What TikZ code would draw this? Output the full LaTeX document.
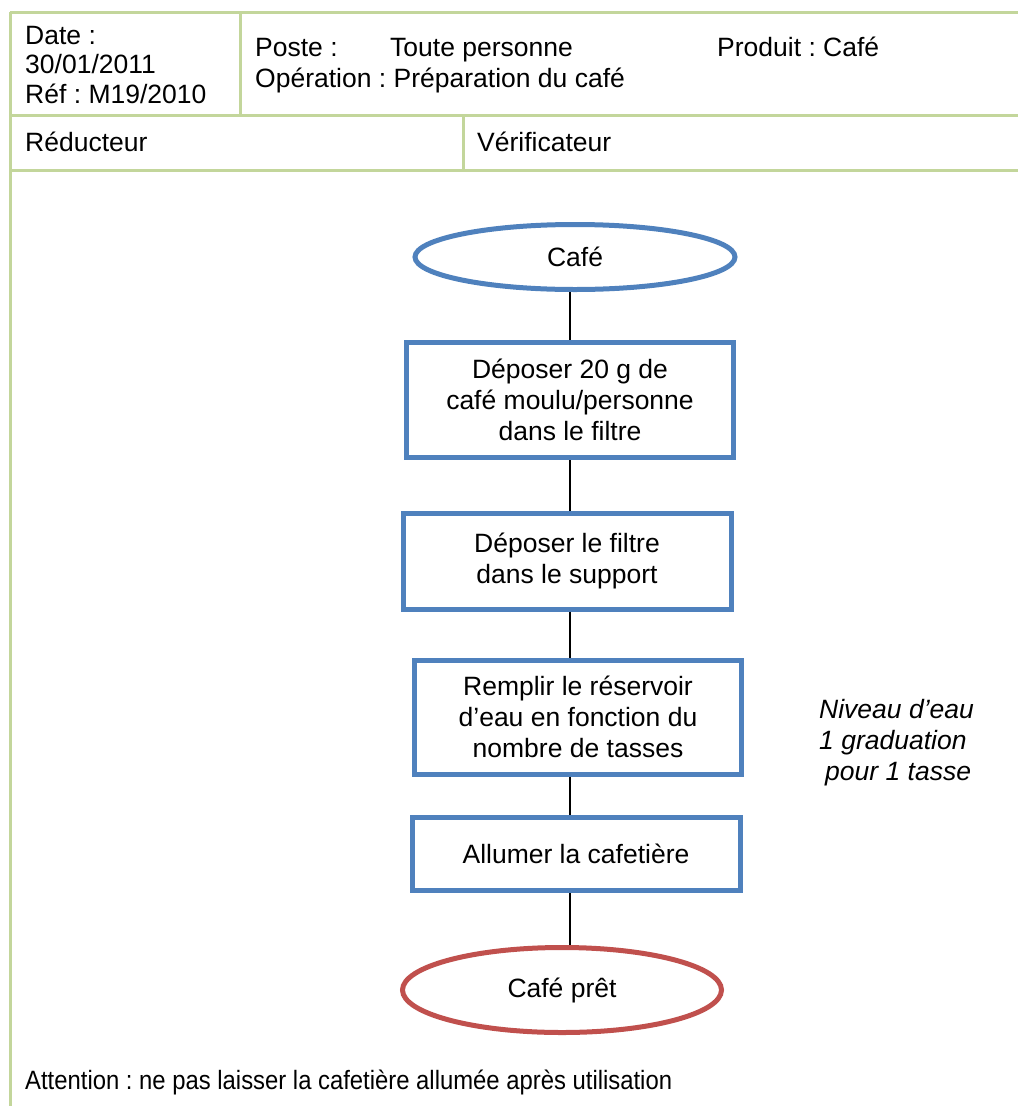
\documentclass[tikz,border=0pt]{standalone}
\usepackage{fontspec}
\setmainfont{Liberation Sans}
\newfontfamily\condfont[FakeStretch=0.9]{Liberation Sans}
\usetikzlibrary{shapes.geometric}
\definecolor{gborder}{RGB}{195,214,155}
\definecolor{bblue}{RGB}{79,129,189}
\definecolor{rred}{RGB}{192,80,77}
\tikzset{
  txt/.style={anchor=base west, inner sep=0pt, font=\fontsize{26.5}{30}\selectfont},
  stepbox/.style={draw=bblue, line width=5pt, rectangle, inner sep=0pt, align=center, font=\fontsize{26.5}{31}\selectfont},
  termblue/.style={draw=bblue, line width=5pt, ellipse, inner sep=0pt, font=\fontsize{26.5}{31}\selectfont},
  termred/.style={draw=rred, line width=5pt, ellipse, inner sep=0pt, font=\fontsize{26.5}{31}\selectfont},
  conn/.style={draw=black, line width=1.5pt},
  grid/.style={draw=gborder, line width=3pt}
}
\frenchspacing
\begin{document}
\begin{tikzpicture}[x=1pt,y=-1pt]
\useasboundingbox (0,0) rectangle (1018,1106);
% table borders
\draw[grid] (10,12) -- (1018,12);
\draw[grid] (10,115) -- (1018,115);
\draw[grid] (10,170) -- (1018,170);
\draw[grid] (10,12) -- (10,1106);
\draw[grid] (240,12) -- (240,115);
\draw[grid] (463,115) -- (463,170);
% header texts
\node[txt] (date) at (25,44) {Date :};
\node[txt] (datev) at (25,73) {30/01/2011};
\node[txt] (ref) at (25,103) {Réf : M19/2010};
\node[txt] (poste) at (255,56) {Poste :};
\node[txt] (toute) at (390,56) {Toute personne};
\node[txt] (produit) at (717,56) {Produit : Café};
\node[txt] (oper) at (255,87) {Opération : Préparation du café};
\node[txt] (redu) at (25,151) {Réducteur};
\node[txt] (veri) at (477,151) {Vérificateur};
\node[txt, font=\fontsize{26.5}{30}\condfont] (att) at (25,1089) {Attention : ne pas laisser la cafetière allumée après utilisation};
% flowchart
\coordinate (cx) at (570,0);
\node[termblue, minimum width=320pt, minimum height=65pt] (start) at (575,257) {Café};
\node[stepbox, minimum width=327pt, minimum height=115pt] (s1) at (570,400) {Déposer 20 g de\\café moulu/personne\\dans le filtre};
\node[stepbox, minimum width=328pt, minimum height=96pt] (s2) at (567,561) {Déposer le filtre\\dans le support};
\node[stepbox, minimum width=327pt, minimum height=114pt] (s3) at (578,717) {Remplir le réservoir\\d’eau en fonction du\\nombre de tasses};
\node[stepbox, minimum width=328pt, minimum height=73pt] (s4) at (576,854) {Allumer la cafetière};
\node[termred, minimum width=319pt, minimum height=85pt] (end) at (562,990) {Café prêt};
\node[anchor=north west, inner sep=0pt, align=left, font=\fontsize{26.5}{31}\selectfont\itshape] (note) at (819,699) {Niveau d’eau\\1 graduation\\\hspace*{6pt}pour 1 tasse};
% connectors
\draw[conn] (start.south -| cx) -- (s1.north -| cx);
\draw[conn] (s1.south -| cx) -- (s2.north -| cx);
\draw[conn] (s2.south -| cx) -- (s3.north -| cx);
\draw[conn] (s3.south -| cx) -- (s4.north -| cx);
\draw[conn] (s4.south -| cx) -- (end.north -| cx);
\end{tikzpicture}
\end{document}
